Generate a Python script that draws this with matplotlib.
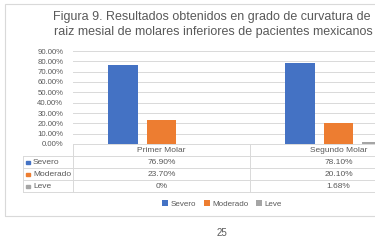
import matplotlib
matplotlib.use('Agg')
import matplotlib.pyplot as plt
from matplotlib.patches import Rectangle
from matplotlib.lines import Line2D

# datos de la figura
categorias = ['Primer Molar', 'Segundo Molar']
series = ['Severo', 'Moderado', 'Leve']
severo = [76.90, 78.10]
moderado = [23.70, 20.10]
leve = [0.0, 1.68]
etiquetas = [['76.90%', '78.10%'], ['23.70%', '20.10%'], ['0%', '1.68%']]
colores = ['#4472C4', '#ED7D31', '#A5A5A5']
yticks = [0, 10, 20, 30, 40, 50, 60, 70, 80, 90]

W, H = 375.0, 250.0
gris = '#595959'
linea = '#D9D9D9'
plt.rcParams['font.family'] = ['Liberation Sans', 'DejaVu Sans']

fig = plt.figure(figsize=(3.75, 2.5), dpi=100)

def fx(px):
    return px / W

def fy(py):
    return 1 - py / H

# marco del grafico
fig.add_artist(Rectangle((fx(5), fy(216)), fx(460), fy(4) - fy(216),
                         transform=fig.transFigure, fill=False, edgecolor=linea, lw=0.8))

ax = fig.add_axes([fx(73), fy(144), fx(354), fy(51) - fy(144)])
valores = [severo, moderado, leve]
ancho = 0.168
desp = [-0.218, 0.0, 0.218]
barras = []
for i in range(3):
    xs = [j + 0.5 + desp[i] for j in range(len(categorias))]
    b = ax.bar(xs, valores[i], width=ancho, color=colores[i], zorder=3)
    barras.append(b)
ax.set_xlim(0, 2)
ax.set_ylim(0, 90)
ax.set_yticks(yticks)
ax.set_yticklabels(['{:.2f}%'.format(v) for v in yticks], fontsize=5.6, color=gris)
ax.set_xticks([])
ax.grid(axis='y', color=linea, lw=0.7, zorder=0)
for s in ax.spines.values():
    s.set_visible(False)
ax.tick_params(axis='y', length=0, pad=7)

# tabla de datos
col_x = [23, 73, 250, 427]
fila_y = [144, 156, 168, 180, 192]
for y in fila_y[1:]:
    fig.add_artist(Line2D([fx(col_x[0]), fx(col_x[3])], [fy(y), fy(y)],
                          transform=fig.transFigure, color=linea, lw=0.7))
fig.add_artist(Line2D([fx(col_x[1]), fx(col_x[3])], [fy(144), fy(144)],
                      transform=fig.transFigure, color=linea, lw=0.7))
for x in col_x[1:3]:
    fig.add_artist(Line2D([fx(x), fx(x)], [fy(144), fy(192)],
                          transform=fig.transFigure, color=linea, lw=0.7))
fig.add_artist(Line2D([fx(col_x[0]), fx(col_x[0])], [fy(156), fy(192)],
                      transform=fig.transFigure, color=linea, lw=0.7))

fs = 6.0
for j, c in enumerate(categorias):
    xc = (col_x[j + 1] + col_x[j + 2]) / 2
    fig.text(fx(xc), fy(150), c, ha='center', va='center', fontsize=fs, color=gris)
for i, s in enumerate(series):
    yc = (fila_y[i + 1] + fila_y[i + 2]) / 2
    fig.add_artist(Rectangle((fx(26), fy(yc) - 0.006), fx(4), 0.012,
                             transform=fig.transFigure, color=colores[i]))
    fig.text(fx(33), fy(yc), s, ha='left', va='center', fontsize=fs, color=gris)
    for j in range(len(categorias)):
        xc = (col_x[j + 1] + col_x[j + 2]) / 2
        fig.text(fx(xc), fy(yc), etiquetas[i][j], ha='center', va='center',
                 fontsize=fs, color=gris)

fig.legend(barras, series, loc='center', bbox_to_anchor=(fx(222), fy(204)), ncol=3,
           frameon=False, fontsize=5.8, handlelength=0.7, handleheight=0.7,
           handletextpad=0.3, columnspacing=1.0, labelcolor=gris)

# titulo
fig.text(fx(53), fy(17), 'Figura 9. Resultados obtenidos en grado de curvatura de',
         ha='left', va='center', fontsize=9.0, color=gris)
fig.text(fx(54), fy(32), 'raiz mesial de molares inferiores de pacientes mexicanos',
         ha='left', va='center', fontsize=9.0, color=gris)

fig.text(fx(222), fy(233), '25', ha='center', va='center', fontsize=7, color=gris)

fig.savefig('out.png', dpi=100, facecolor='white')
